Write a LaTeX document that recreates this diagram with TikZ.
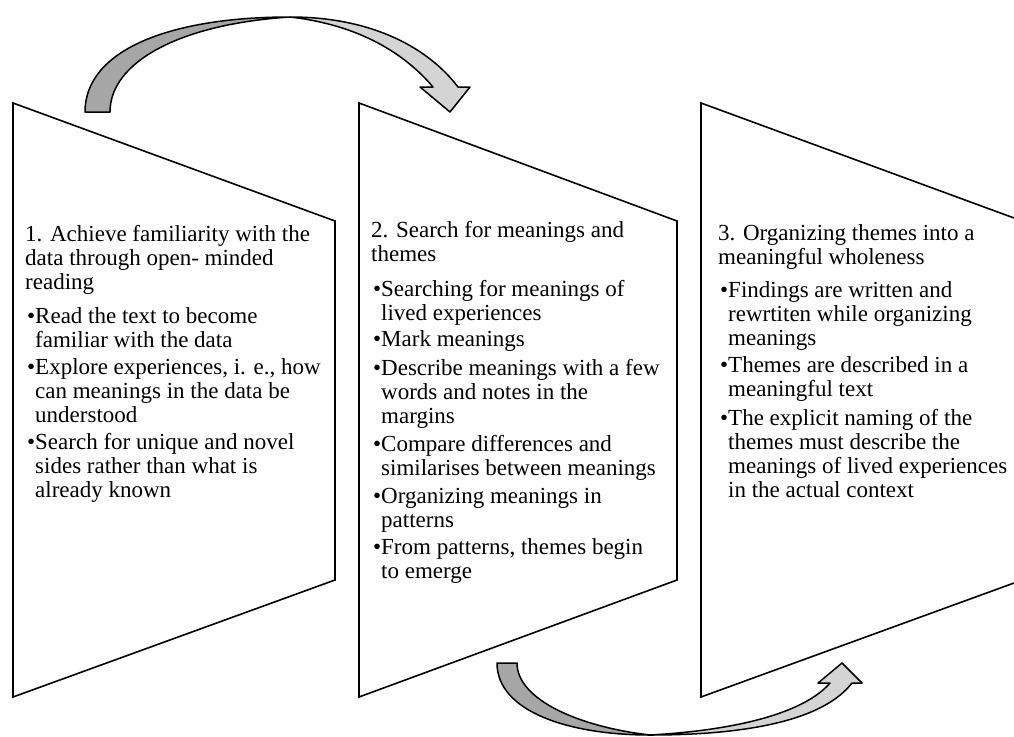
\documentclass[tikz,border=0pt]{standalone}
\usepackage{fontspec}
\setmainfont{Liberation Serif}
\usetikzlibrary{positioning}
\definecolor{ArrowDark}{HTML}{A6A6A6}
\definecolor{ArrowLight}{HTML}{D4D4D4}
\newcommand{\bul}{\makebox[10pt][l]{\hspace{2pt}\textbullet}}
\newcommand{\hang}{\hspace*{10pt}}

\begin{document}
\begin{tikzpicture}[x=1pt,y=-1pt,
    panel/.style={draw,line width=1.6pt,line join=miter},
    curvearrow/.style={draw,line width=1.5pt,line join=round},
    stagetext/.style={anchor=base west,align=left,inner sep=0pt,
      font=\fontsize{23}{24}\selectfont}]
  \useasboundingbox (0,0) rectangle (1014,736);

  % the three panels
  \draw[panel] (13,103)--(335,221)--(335,580)--(13,697)--cycle;
  \draw[panel] (359,103)--(677,221)--(677,580)--(359,697)--cycle;
  \draw[panel] (1014,218)--(701,103)--(701,697)--(1014,583);

  % curved arrow on top
  \draw[curvearrow,fill=ArrowLight] (290,17) .. controls (375,17) and (430,50) .. (458,87)
    --(470,87)--(450,112)--(420,87)--(433,87)
    .. controls (405,54) and (360,25) .. (290,17)--cycle;
  \draw[curvearrow,fill=ArrowDark] (85,112) .. controls (85,50) and (170,17) .. (290,17)
    .. controls (180,24) and (110,62) .. (110,112)--cycle;

  % curved arrow at the bottom
  \draw[curvearrow,fill=ArrowLight] (650,735) .. controls (755,735) and (825,718) .. (852,683)
    --(862,683)--(842,663)--(818,683)--(830,683)
    .. controls (805,712) and (740,730) .. (650,735)--cycle;
  \draw[curvearrow,fill=ArrowDark] (497,663) .. controls (497,712) and (570,735) .. (650,735)
    .. controls (580,727) and (517,700) .. (517,663)--cycle;

  \node[stagetext] (stage1) at (25,497) {1. Achieve familiarity with the\\
    data through open- minded\\
    reading\\[10pt]
    \bul Read the text to become\\
    \hang familiar with the data\\[3pt]
    \bul Explore experiences, i. e., how\\
    \hang can meanings in the data be\\
    \hang understood\\[3pt]
    \bul Search for unique and novel\\
    \hang sides rather than what is\\
    \hang already known};

  \node[stagetext] (stage2) at (371,578) {2. Search for meanings and\\
    themes\\[11pt]
    \bul Searching for meanings of\\
    \hang lived experiences\\[2pt]
    \bul Mark meanings\\[5pt]
    \bul Describe meanings with a few\\
    \hang words and notes in the\\
    \hang margins\\[4pt]
    \bul Compare differences and\\
    \hang similarises between meanings\\[4pt]
    \bul Organizing meanings in\\
    \hang patterns\\[3pt]
    \bul From patterns, themes begin\\
    \hang to emerge};

  \node[stagetext] (stage3) at (718,497) {3. Organizing themes into a\\
    meaningful wholeness\\[9pt]
    \bul Findings are written and\\
    \hang rewrtiten while organizing\\
    \hang meanings\\[3pt]
    \bul Themes are described in a\\
    \hang meaningful text\\[5pt]
    \bul The explicit naming of the\\
    \hang themes must describe the\\
    \hang meanings of lived experiences\\
    \hang in the actual context};
\end{tikzpicture}
\end{document}
